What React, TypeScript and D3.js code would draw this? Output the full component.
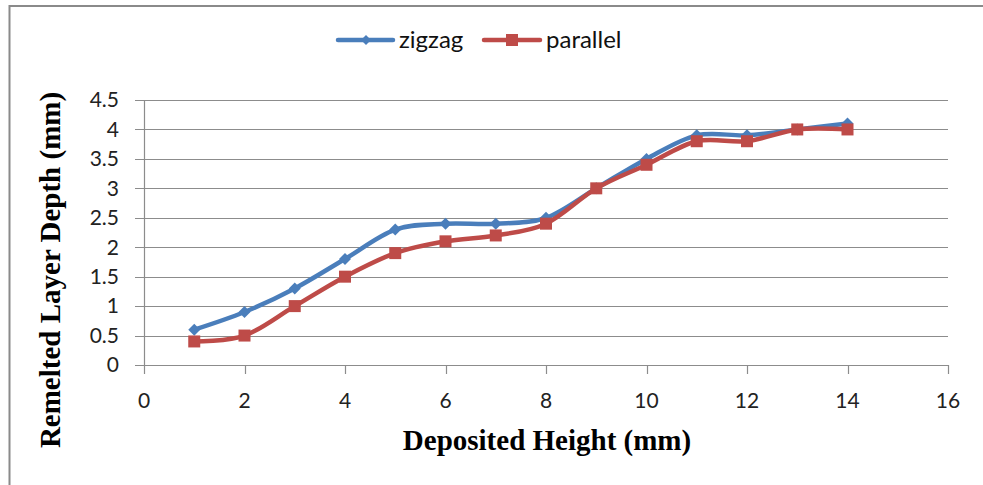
import React from "react";
import * as d3 from "d3";

const heights = [1, 2, 3, 4, 5, 6, 7, 8, 9, 10, 11, 12, 13, 14];
const zigzag = [0.6, 0.9, 1.3, 1.8, 2.3, 2.4, 2.4, 2.5, 3.0, 3.5, 3.9, 3.9, 4.0, 4.1];
const parallel = [0.4, 0.5, 1.0, 1.5, 1.9, 2.1, 2.2, 2.4, 3.0, 3.4, 3.8, 3.8, 4.0, 4.0];
const xTicks = [0, 2, 4, 6, 8, 10, 12, 14, 16];
const yTicks = [0, 0.5, 1, 1.5, 2, 2.5, 3, 3.5, 4, 4.5];

const W = 983, H = 485;
const BLUE = "#4A7EBB", RED = "#BE4B48";
const tickFont = "Lato, 'Open Sans', sans-serif";
const titleFont = "'Liberation Serif', 'Times New Roman', serif";

export default function App() {
  const x = d3.scaleLinear().domain([0, 16]).range([144, 948]);
  const y = d3.scaleLinear().domain([0, 4.5]).range([365, 100]);
  const line = d3
    .line<number>()
    .x((_, i) => x(heights[i]))
    .y((d) => y(d))
    .curve(d3.curveCatmullRom.alpha(0));

  const diamond = (cx: number, cy: number, r: number) =>
    `M${cx},${cy - r}L${cx + r},${cy}L${cx},${cy + r}L${cx - r},${cy}Z`;

  return (
    <svg width={W} height={H} style={{ position: "absolute", left: 0, top: 0, background: "#fff" }}>
      {/* frame */}
      <line x1={9.5} y1={6} x2={W} y2={6} stroke="#8a8a8a" strokeWidth={2} />
      <line x1={9.5} y1={5} x2={9.5} y2={H} stroke="#8a8a8a" strokeWidth={2} />

      {/* gridlines */}
      {yTicks.map((t) => (
        <g key={"g" + t}>
          <line x1={135} x2={948} y1={Math.round(y(t)) + 0.5} y2={Math.round(y(t)) + 0.5} stroke="#8c8c8c" strokeWidth={1.2} />
          <text x={119} y={y(t)} dy="0.35em" textAnchor="end" fontFamily={tickFont} fontSize={21} fill="#222">
            {t}
          </text>
        </g>
      ))}
      {/* axes */}
      <line x1={144.5} x2={144.5} y1={y(4.5)} y2={365} stroke="#8c8c8c" strokeWidth={1.2} />
      {xTicks.map((t) => (
        <g key={"x" + t}>
          <line x1={Math.round(x(t)) + 0.5} x2={Math.round(x(t)) + 0.5} y1={365} y2={374} stroke="#8c8c8c" strokeWidth={1.2} />
          <text x={x(t)} y={401} dy="0.35em" textAnchor="middle" fontFamily={tickFont} fontSize={21} fill="#222">
            {t}
          </text>
        </g>
      ))}

      {/* series */}
      <path d={line(zigzag) || ""} fill="none" stroke={BLUE} strokeWidth={4.5} strokeLinejoin="round" />
      {zigzag.map((v, i) => (
        <path key={"zd" + i} d={diamond(x(heights[i]), y(v), 6)} fill={BLUE} />
      ))}
      <path d={line(parallel) || ""} fill="none" stroke={RED} strokeWidth={4.5} strokeLinejoin="round" />
      {parallel.map((v, i) => (
        <rect key={"pr" + i} x={x(heights[i]) - 6} y={y(v) - 6} width={12} height={12} fill={RED} />
      ))}

      {/* legend */}
      <line x1={338} x2={393} y1={40} y2={40} stroke={BLUE} strokeWidth={4.5} strokeLinecap="round" />
      <path d={diamond(366, 40, 5)} fill={BLUE} />
      <text x={399} y={40} dy="0.35em" fontFamily={tickFont} fontSize={24} fill="#111">zigzag</text>
      <line x1={484} x2={540} y1={40} y2={40} stroke={RED} strokeWidth={4.5} strokeLinecap="round" />
      <rect x={506} y={34} width={12} height={12} fill={RED} />
      <text x={546} y={40} dy="0.35em" fontFamily={tickFont} fontSize={24} fill="#111">parallel</text>

      {/* axis titles */}
      <text x={547} y={440} dy="0.35em" textAnchor="middle" fontFamily={titleFont} fontWeight="bold" fontSize={29} fill="#000">
        Deposited Height (mm)
      </text>
      <text
        transform={`translate(50,270) rotate(-90)`}
        textAnchor="middle"
        dy="0.35em"
        fontFamily={titleFont}
        fontWeight="bold"
        fontSize={29}
        fill="#000"
      >
        Remelted Layer Depth (mm)
      </text>
    </svg>
  );
}
